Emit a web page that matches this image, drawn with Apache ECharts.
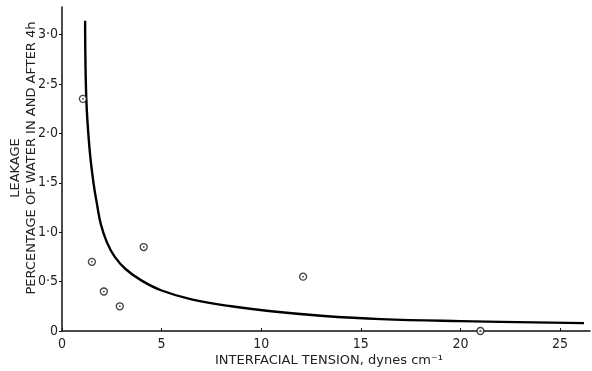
<!DOCTYPE html>
<html><head><meta charset="utf-8">
<script src="https://cdn.jsdelivr.net/npm/echarts@6/dist/echarts.min.js"></script>
<style>html,body{margin:0;padding:0;background:#fff}#c{width:592px;height:371px}</style>
</head><body><div id="c"></div>
<script>
// Fitted curve (interfacial tension, leakage %)
var curveX = [1.16, 1.22, 1.38, 1.58, 1.76, 1.95, 2.25, 2.65, 3.2, 4.0, 5.0, 6.5, 8.5, 10.5, 13.0, 16.0, 20.0, 26.2];
var curveY = [3.14, 2.35, 1.85, 1.5, 1.28, 1.08, 0.9, 0.75, 0.625, 0.51, 0.41, 0.32, 0.25, 0.2, 0.155, 0.12, 0.1, 0.08];
// Measured points
var pointX = [1.05, 1.5, 2.1, 2.9, 4.1, 12.1, 21.0];
var pointY = [2.35, 0.70, 0.40, 0.25, 0.85, 0.55, 0.0];
var xTicks = [0, 5, 10, 15, 20, 25];
var yTicks = [0, 0.5, 1.0, 1.5, 2.0, 2.5, 3.0];
var xTitle = 'INTERFACIAL TENSION, dynes cm\u207B\u00B9';
var yTitle1 = 'LEAKAGE';
var yTitle2 = 'PERCENTAGE OF WATER IN AND AFTER 4h';

var FONT = '"DejaVu Sans Condensed","Liberation Sans Narrow","DejaVu Sans",sans-serif';
var TFONT = '"DejaVu Sans",sans-serif';
var chart = echarts.init(document.getElementById('c'));
function fmtY(v){
  var r = Math.round(v*10)/10;
  if (Math.abs(v - r) > 1e-6 || yTicks.indexOf(r) < 0) return '';
  if (r === 0) return '0';
  return r.toFixed(1).replace('.', '\u00B7');
}
function fmtX(v){ return xTicks.indexOf(v) >= 0 ? String(v) : ''; }
chart.setOption({
  animation: false,
  backgroundColor: '#fff',
  grid: {left: 62, right: 2, top: 7, bottom: 40},
  xAxis: {
    type: 'value', min: 0, max: 26.5, interval: 5,
    axisLine: {lineStyle: {color: '#111', width: 1.5}},
    axisTick: {inside: true, length: 3, lineStyle: {color: '#111'}},
    axisLabel: {formatter: fmtX, color: '#222', fontFamily: FONT, fontSize: 14, margin: 6, showMaxLabel: false},
    splitLine: {show: false}
  },
  yAxis: {
    type: 'value', min: 0, max: 3.28, interval: 0.5,
    axisLine: {show: true, lineStyle: {color: '#111', width: 1.5}},
    axisTick: {show: true, length: 3, lineStyle: {color: '#111'}},
    axisLabel: {formatter: fmtY, color: '#222', fontFamily: FONT, fontSize: 14, margin: 4, showMaxLabel: false},
    splitLine: {show: false}
  },
  graphic: [
    {type: 'text', left: 215, top: 354, style: {text: xTitle, font: '13px ' + TFONT, fill: '#222'}},
    {type: 'text', x: 16, y: 168, rotation: Math.PI/2, style: {text: yTitle1, font: '13px ' + TFONT, fill: '#222', textAlign: 'center', textVerticalAlign: 'middle'}},
    {type: 'text', x: 32, y: 158, rotation: Math.PI/2, style: {text: yTitle2, font: '13px ' + TFONT, fill: '#222', textAlign: 'center', textVerticalAlign: 'middle'}}
  ],
  series: [
    {type: 'line', data: curveX.map(function(x,i){return [x, curveY[i]];}), smooth: 0.4,
     showSymbol: false, lineStyle: {color: '#000', width: 2.4}, z: 2},
    {type: 'scatter', data: pointX.map(function(x,i){return [x, pointY[i]];}), symbol: 'circle', symbolSize: 7,
     itemStyle: {color: '#fff', borderColor: '#111', borderWidth: 1.3}, z: 3},
    {type: 'scatter', data: pointX.map(function(x,i){return [x, pointY[i]];}), symbol: 'circle', symbolSize: 2,
     itemStyle: {color: '#333'}, z: 4}
  ]
});
</script></body></html>
